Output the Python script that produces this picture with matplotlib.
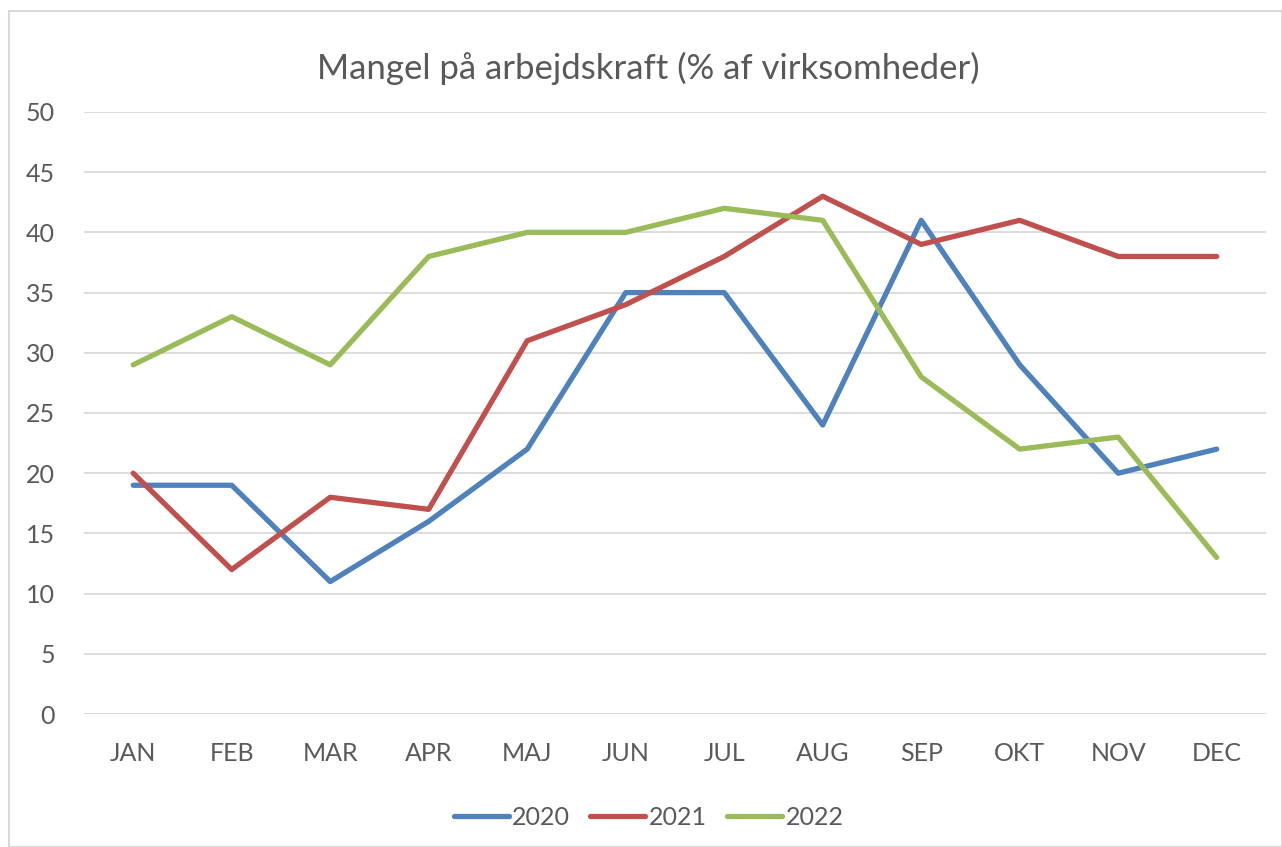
import matplotlib
matplotlib.use('Agg')
import matplotlib.pyplot as plt
from matplotlib.patches import Rectangle

# Data
months = ['JAN', 'FEB', 'MAR', 'APR', 'MAJ', 'JUN', 'JUL', 'AUG', 'SEP', 'OKT', 'NOV', 'DEC']
y2020 = [19, 19, 11, 16, 22, 35, 35, 24, 41, 29, 20, 22]
y2021 = [20, 12, 18, 17, 31, 34, 38, 43, 39, 41, 38, 38]
y2022 = [29, 33, 29, 38, 40, 40, 42, 41, 28, 22, 23, 13]

TEXT = '#595959'
plt.rcParams['font.family'] = ['Lato', 'DejaVu Sans']

fig = plt.figure(figsize=(12.82, 8.47), dpi=100)
ax = fig.add_axes([0.0655, 0.157, 0.922, 0.7108])

x = range(len(months))
ax.plot(x, y2020, color='#4F81BD', lw=3.8, label='2020', solid_capstyle='round', solid_joinstyle='round')
ax.plot(x, y2021, color='#C0504D', lw=3.8, label='2021', solid_capstyle='round', solid_joinstyle='round')
ax.plot(x, y2022, color='#9BBB59', lw=3.8, label='2022', solid_capstyle='round', solid_joinstyle='round')

ax.set_xlim(-0.5, len(months) - 0.5)
ax.set_ylim(0, 50)
ax.set_yticks(range(0, 51, 5))
ax.set_xticks(list(x))
ax.set_xticklabels(months)
ax.grid(axis='y', color='#d9d9d9', lw=1.3)
ax.set_axisbelow(True)
for s in ax.spines.values():
    s.set_visible(False)
ax.tick_params(length=0, labelsize=18, colors=TEXT)
ax.tick_params(axis='y', pad=21)
ax.tick_params(axis='x', pad=20)

fig.text(0.506, 0.919, 'Mangel på arbejdskraft (% af virksomheder)', ha='center', va='center',
         fontsize=25, color=TEXT)

leg = fig.legend(loc='center', bbox_to_anchor=(0.506, 0.035), ncol=3, frameon=False,
                 fontsize=18, handlelength=2.2, handletextpad=0.15, columnspacing=0.8)
for t in leg.get_texts():
    t.set_color(TEXT)

# outer chart border
fig.patches.append(Rectangle((0.007, 0.0), 0.993, 0.987, transform=fig.transFigure,
                             fill=False, edgecolor='#d9d9d9', lw=1.5))

fig.savefig('out.png', dpi=100)
